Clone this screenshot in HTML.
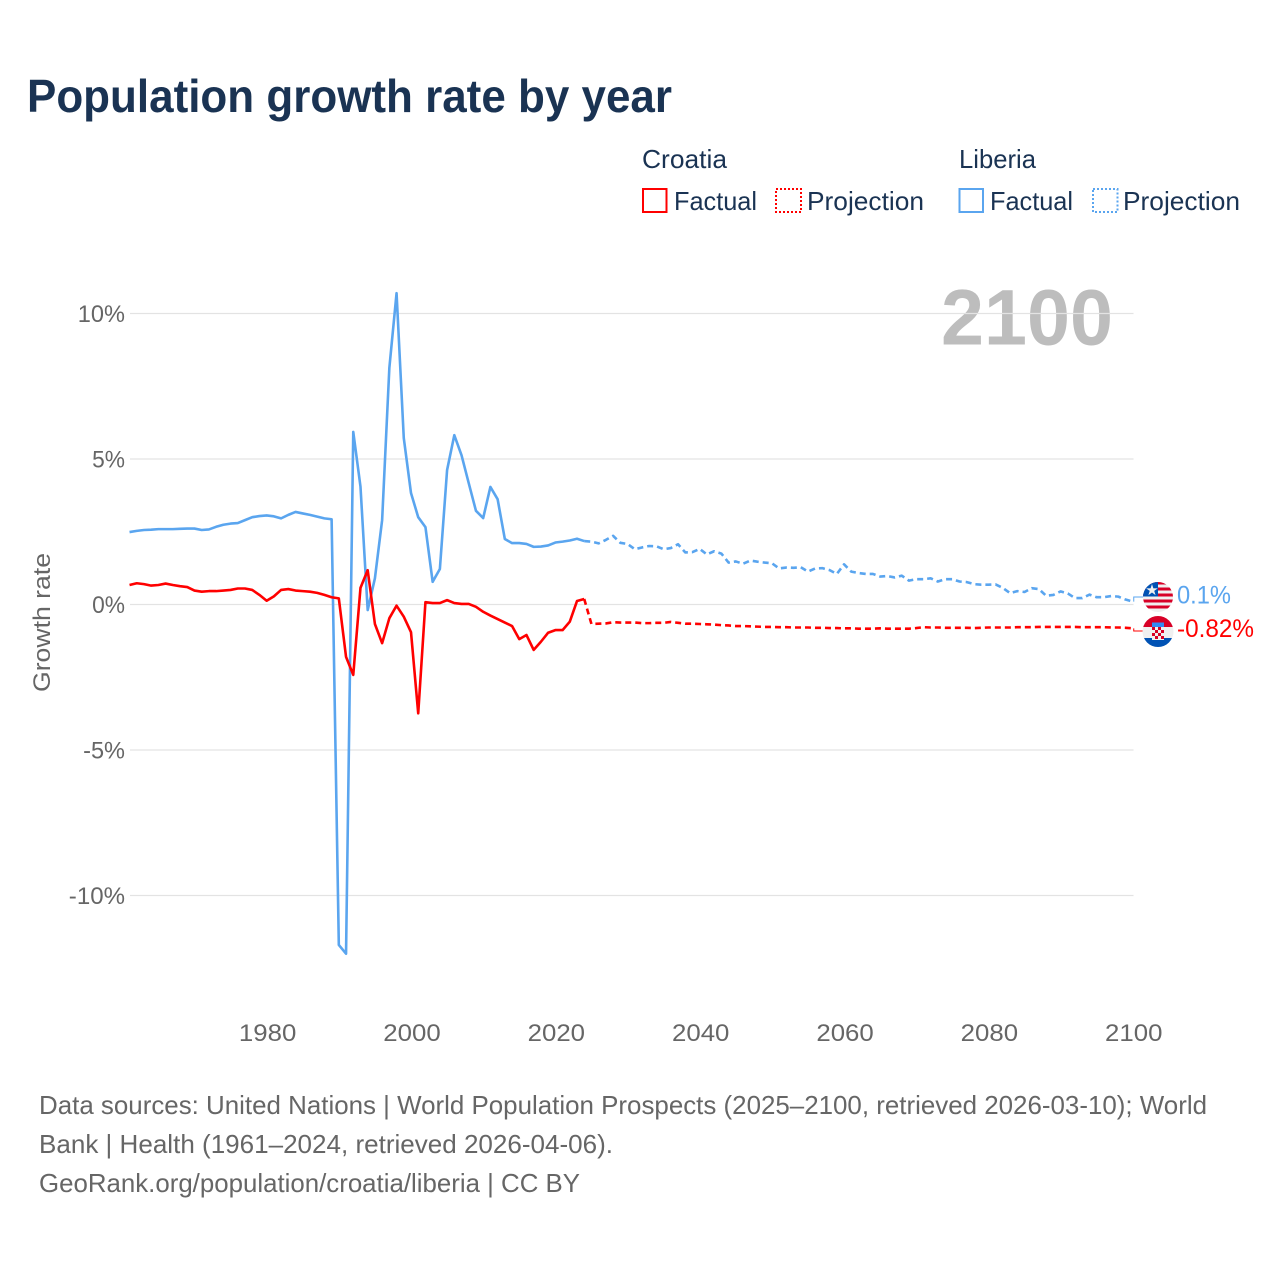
<!DOCTYPE html>
<html lang="en">
<head>
<meta charset="utf-8">
<title>Population growth rate by year</title>
<style>
html,body{margin:0;padding:0;background:#fff;width:1280px;height:1280px;overflow:hidden}
svg{display:block}
text{font-family:"Liberation Sans",sans-serif}
.dark{fill:#1a3353}
.grey{fill:#666}
</style>
</head>
<body>
<svg id="chart" xmlns="http://www.w3.org/2000/svg" width="1280" height="1280" viewBox="0 0 1280 1280">
  <rect x="0" y="0" width="1280" height="1280" fill="#fff"/>
  <text class="dark" x="27" y="112" font-size="46" font-weight="700" textLength="645" lengthAdjust="spacingAndGlyphs">Population growth rate by year</text>

  <g font-size="26">
    <text class="dark" x="642" y="168" textLength="85" lengthAdjust="spacingAndGlyphs">Croatia</text>
    <text class="dark" x="959" y="168" textLength="77" lengthAdjust="spacingAndGlyphs">Liberia</text>
    <g>
      <rect x="643" y="189" width="23.5" height="23" fill="none" stroke="#ff0000" stroke-width="2"/>
      <text class="dark" x="674" y="210" textLength="83" lengthAdjust="spacingAndGlyphs">Factual</text>
    </g>
    <g>
      <rect x="776" y="189" width="25" height="23" fill="none" stroke="#ff0000" stroke-width="2" stroke-dasharray="2 2"/>
      <text class="dark" x="807" y="210" textLength="117" lengthAdjust="spacingAndGlyphs">Projection</text>
    </g>
    <g>
      <rect x="959.5" y="189" width="23.5" height="23" fill="none" stroke="#5aa5ef" stroke-width="2"/>
      <text class="dark" x="990" y="210" textLength="83" lengthAdjust="spacingAndGlyphs">Factual</text>
    </g>
    <g>
      <rect x="1093" y="189" width="24.5" height="23" fill="none" stroke="#5aa5ef" stroke-width="2" stroke-dasharray="2 2"/>
      <text class="dark" x="1123" y="210" textLength="117" lengthAdjust="spacingAndGlyphs">Projection</text>
    </g>
  </g>

  <text x="941" y="344.5" font-size="79" font-weight="700" fill="#bdbdbd" textLength="172" lengthAdjust="spacingAndGlyphs">2100</text>
  <g id="grid"></g>
  <g id="yticks"></g>
  <g id="xticks"></g>
  <text class="grey" transform="translate(50,692) rotate(-90)" font-size="24" textLength="139" lengthAdjust="spacingAndGlyphs">Growth rate</text>

  <g id="series"></g>

  <defs>
    <clipPath id="clip-liberia"><circle cx="1158" cy="597" r="15"/></clipPath>
    <clipPath id="clip-croatia"><circle cx="1158" cy="631.5" r="15.5"/></clipPath>
  </defs>
  <g clip-path="url(#clip-liberia)">
    <rect x="1143" y="581" width="30" height="32" fill="#f0f0f0"/>
    <rect x="1143" y="581" width="30" height="3.5" fill="#d80027"/>
    <rect x="1143" y="587.5" width="30" height="3" fill="#d80027"/>
    <rect x="1143" y="593.5" width="30" height="3" fill="#d80027"/>
    <rect x="1143" y="599.5" width="30" height="3" fill="#d80027"/>
    <rect x="1143" y="605.5" width="30" height="3" fill="#d80027"/>
    <rect x="1143" y="581" width="15" height="15.5" fill="#0052b4"/>
    <text x="1152" y="595" font-size="15" fill="#f0f0f0" text-anchor="middle" style="font-family:'DejaVu Sans',sans-serif">★</text>
  </g>
  <g clip-path="url(#clip-croatia)">
    <rect x="1142" y="616" width="32" height="11" fill="#d80027"/>
    <rect x="1142" y="627" width="32" height="11" fill="#f0f0f0"/>
    <rect x="1142" y="638" width="32" height="10" fill="#0052b4"/>
    <rect x="1152" y="622.5" width="12" height="4.5" fill="#338af3"/>
    <rect x="1152" y="627" width="12" height="13" fill="#f0f0f0"/>
    <rect x="1152" y="627" width="3" height="3" fill="#d80027"/>
    <rect x="1158" y="627" width="3" height="3" fill="#d80027"/>
    <rect x="1155" y="630" width="3" height="3" fill="#d80027"/>
    <rect x="1161" y="630" width="3" height="3" fill="#d80027"/>
    <rect x="1152" y="633" width="3" height="3" fill="#d80027"/>
    <rect x="1158" y="633" width="3" height="3" fill="#d80027"/>
    <rect x="1155" y="636" width="3" height="3" fill="#d80027"/>
    <rect x="1161" y="636" width="3" height="3" fill="#d80027"/>
  </g>
  <text id="end-liberia" x="1177" y="603.5" font-size="25" fill="#5aa5ef" textLength="54" lengthAdjust="spacingAndGlyphs"></text>
  <text id="end-croatia" x="1177" y="637" font-size="25" fill="#ff0000" textLength="77" lengthAdjust="spacingAndGlyphs"></text>

  <g class="grey" font-size="26">
    <text class="grey" x="39" y="1114" textLength="1168" lengthAdjust="spacingAndGlyphs">Data sources: United Nations | World Population Prospects (2025–2100, retrieved 2026-03-10); World</text>
    <text class="grey" x="39" y="1153" textLength="574" lengthAdjust="spacingAndGlyphs">Bank | Health (1961–2024, retrieved 2026-04-06).</text>
    <text class="grey" x="39" y="1192" textLength="541" lengthAdjust="spacingAndGlyphs">GeoRank.org/population/croatia/liberia | CC BY</text>
  </g>
</svg>

<script>
const xTickLabels = [1980, 2000, 2020, 2040, 2060, 2080, 2100];
const yTickValues = [10, 5, 0, -5, -10];
const factualStartYear = 1961;
const projectionStartYear = 2025;

const croatiaFactual = [
  0.67,0.73,0.70,0.65,0.67,0.72,0.67,0.63,0.60,0.48,
  0.44,0.46,0.46,0.48,0.50,0.55,0.55,0.50,0.33,0.13,
  0.28,0.50,0.53,0.48,0.46,0.44,0.40,0.33,0.25,0.21,
  -1.8,-2.42,0.57,1.18,-0.67,-1.33,-0.47,-0.04,-0.42,-0.95,
  -3.74,0.08,0.05,0.05,0.15,0.05,0.02,0.02,-0.08,-0.25,
  -0.38,-0.5,-0.62,-0.74,-1.19,-1.05,-1.56,-1.28,-0.97,-0.88,
  -0.88,-0.59,0.12,0.19
];
const croatiaProjection = [
  -0.67,-0.66,-0.65,-0.61,-0.62,-0.62,-0.62,-0.64,-0.64,-0.63,
  -0.63,-0.60,-0.63,-0.66,-0.66,-0.67,-0.68,-0.69,-0.71,-0.72,
  -0.74,-0.74,-0.75,-0.76,-0.77,-0.77,-0.78,-0.78,-0.79,-0.79,
  -0.79,-0.80,-0.80,-0.81,-0.81,-0.82,-0.82,-0.83,-0.83,-0.83,
  -0.82,-0.83,-0.83,-0.83,-0.83,-0.81,-0.78,-0.79,-0.79,-0.80,
  -0.80,-0.80,-0.80,-0.81,-0.80,-0.79,-0.79,-0.79,-0.79,-0.78,
  -0.78,-0.78,-0.77,-0.77,-0.77,-0.77,-0.77,-0.77,-0.78,-0.78,
  -0.78,-0.78,-0.79,-0.79,-0.80,-0.82
];
const liberiaFactual = [
  2.49,2.53,2.56,2.57,2.59,2.59,2.59,2.60,2.61,2.61,
  2.56,2.58,2.67,2.74,2.78,2.80,2.90,3.00,3.04,3.06,
  3.03,2.96,3.08,3.18,3.13,3.08,3.02,2.96,2.93,-11.7,
  -12.0,5.93,4.05,-0.19,0.9,2.9,8.13,10.7,5.72,3.83,
  3.0,2.66,0.78,1.22,4.62,5.82,5.13,4.17,3.22,2.97,
  4.04,3.62,2.25,2.11,2.11,2.08,1.98,1.99,2.03,2.13,
  2.16,2.2,2.26,2.18
];
const liberiaProjection = [
  2.16,2.10,2.22,2.36,2.12,2.08,1.90,1.96,2.01,2.0,
  1.9,1.94,2.07,1.79,1.80,1.91,1.72,1.83,1.75,1.44,
  1.48,1.40,1.51,1.47,1.44,1.42,1.24,1.27,1.26,1.28,
  1.13,1.24,1.25,1.18,1.05,1.38,1.13,1.08,1.05,1.05,
  0.96,0.98,0.93,0.99,0.82,0.87,0.87,0.90,0.79,0.87,
  0.87,0.79,0.77,0.70,0.68,0.68,0.69,0.57,0.39,0.46,
  0.43,0.56,0.53,0.30,0.33,0.45,0.38,0.22,0.22,0.34,
  0.25,0.25,0.29,0.27,0.17,0.1
];

const NS = 'http://www.w3.org/2000/svg';
function xScale(year) { return 411 + (year - 2000) * 7.2175; }
function yScale(v) { return 604.5 - v * 29.1; }
function linePath(startYear, values) {
  return values.map(function (v, i) {
    return (i ? 'L' : 'M') + xScale(startYear + i).toFixed(2) + ' ' + yScale(v).toFixed(2);
  }).join(' ');
}
function makeEl(tag, attrs, parent) {
  const el = document.createElementNS(NS, tag);
  Object.keys(attrs).forEach(function (k) { el.setAttribute(k, attrs[k]); });
  parent.appendChild(el);
  return el;
}

const grid = document.getElementById('grid');
const yticks = document.getElementById('yticks');
const xticks = document.getElementById('xticks');
const series = document.getElementById('series');

yTickValues.forEach(function (v) {
  const line = makeEl('line', {x1: 130, x2: 1133.5, y1: yScale(v), y2: yScale(v), stroke: '#e3e3e3', 'stroke-width': 1.2}, grid);
  
  
  const label = v + '%';
  const digits = String(Math.abs(v)).length;
  const w = digits * 14.3 + 18.6 + (v < 0 ? 9 : 0);
  const t = makeEl('text', {x: 125 - w, y: yScale(v) + 8.5, 'font-size': 24.5, class: 'grey', textLength: w, lengthAdjust: 'spacingAndGlyphs'}, yticks);
  t.textContent = label;
  
  
});

xTickLabels.forEach(function (year) {
  const t = makeEl('text', {x: xScale(year) + 1 - 28.7, y: 1041, 'font-size': 24.5, class: 'grey', textLength: 57.4, lengthAdjust: 'spacingAndGlyphs'}, xticks);
  t.textContent = String(year);
  
  
});

function drawSeries(name, color, factual, projection, flagY) {
  const lastFactual = factual[factual.length - 1];
  const lastValue = projection[projection.length - 1];
  const lastYear = projectionStartYear + projection.length - 1;

  const proj = makeEl('path', {
    d: linePath(projectionStartYear - 1, [lastFactual].concat(projection)),
    fill: 'none', stroke: color, 'stroke-width': 2.6, 'stroke-dasharray': '6 4', 'stroke-linejoin': 'round'
  }, series);
  
  

  const fact = makeEl('path', {
    d: linePath(factualStartYear, factual),
    fill: 'none', stroke: color, 'stroke-width': 2.6, 'stroke-linejoin': 'round'
  }, series);
  
  

  const ex = xScale(lastYear) + 1;
  const ey = yScale(lastValue);
  const conn = makeEl('path', {
    d: 'M' + ex + ' ' + ey + ' L' + ex + ' ' + flagY + ' L1143 ' + flagY,
    fill: 'none', stroke: color, 'stroke-width': 1
  }, series);
  
  
  return lastValue;
}

const liberiaEnd = drawSeries('liberia', '#5aa5ef', liberiaFactual, liberiaProjection, 597);
const croatiaEnd = drawSeries('croatia', '#ff0000', croatiaFactual, croatiaProjection, 631);
document.getElementById('end-liberia').textContent = liberiaEnd + '%';
document.getElementById('end-croatia').textContent = croatiaEnd + '%';
</script>
</body>
</html>
